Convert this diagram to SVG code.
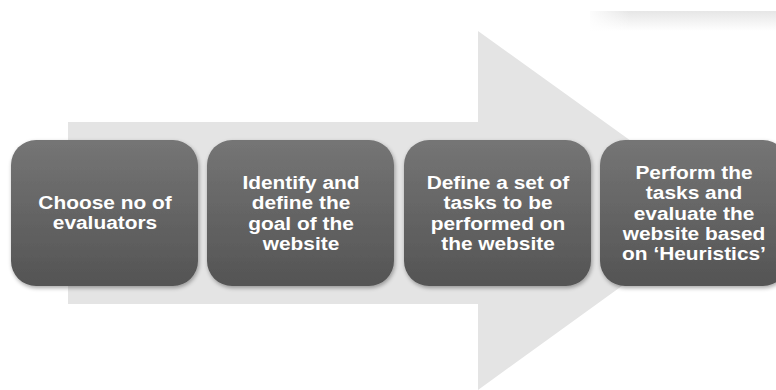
<svg xmlns="http://www.w3.org/2000/svg" width="776" height="390" viewBox="0 0 776 390">
  <style>
    .step { fill: url(#boxFill); filter: url(#boxShadow); }
    .label { font-family: "Liberation Sans", Arial, sans-serif; font-weight: bold; font-size: 18px; fill: #ffffff; text-anchor: middle; }
  </style>
  <defs>
    <linearGradient id="boxFill" x1="0" y1="0" x2="0" y2="1">
      <stop offset="0" stop-color="#757575"/>
      <stop offset="1" stop-color="#545454"/>
    </linearGradient>
    <linearGradient id="bandFill" x1="0" y1="0" x2="0" y2="1">
      <stop offset="0" stop-color="#e6e6e6"/>
      <stop offset="1" stop-color="#ffffff"/>
    </linearGradient>
    <linearGradient id="bandFade" x1="0" y1="0" x2="1" y2="0">
      <stop offset="0" stop-color="#ffffff" stop-opacity="1"/>
      <stop offset="1" stop-color="#ffffff" stop-opacity="0"/>
    </linearGradient>
    <filter id="boxShadow" x="-10%" y="-10%" width="125%" height="125%">
      <feGaussianBlur in="SourceAlpha" stdDeviation="2"/>
      <feOffset dx="1" dy="2" result="blur"/>
      <feComponentTransfer><feFuncA type="linear" slope="0.35"/></feComponentTransfer>
      <feMerge><feMergeNode/><feMergeNode in="SourceGraphic"/></feMerge>
    </filter>
  </defs>

  <rect width="776" height="390" fill="#ffffff"/>

  <!-- faint band along the top right -->
  <rect x="590" y="11" width="186" height="20" fill="url(#bandFill)"/>
  <rect x="585" y="10" width="45" height="22" fill="url(#bandFade)"/>

  <!-- large background arrow -->
  <g id="connectors">
    <polygon points="68,122 478,122 478,31 727,210 478,390 478,304 68,304" fill="#e4e4e4"/>
  </g>

  <g id="step1">
    <rect class="step" x="11" y="140" width="187" height="146" rx="25"/>
    <g transform="translate(105 0) scale(1.16 1)">
      <text class="label" x="0" y="209">Choose no of</text>
      <text class="label" x="0" y="229.5">evaluators</text>
    </g>
  </g>

  <g id="step2">
    <rect class="step" x="207" y="140" width="187" height="146" rx="25"/>
    <g transform="translate(301 0) scale(1.16 1)">
      <text class="label" x="0" y="189">Identify and</text>
      <text class="label" x="0" y="209.5">define the</text>
      <text class="label" x="0" y="230">goal of the</text>
      <text class="label" x="0" y="250">website</text>
    </g>
  </g>

  <g id="step3">
    <rect class="step" x="404" y="140" width="187" height="146" rx="25"/>
    <g transform="translate(498 0) scale(1.16 1)">
      <text class="label" x="0" y="189">Define a set of</text>
      <text class="label" x="0" y="209.5">tasks to be</text>
      <text class="label" x="0" y="230">performed on</text>
      <text class="label" x="0" y="250">the website</text>
    </g>
  </g>

  <g id="step4">
    <rect class="step" x="600" y="140" width="188" height="146" rx="25"/>
    <g transform="translate(694 0) scale(1.16 1)">
      <text class="label" x="0" y="179">Perform the</text>
      <text class="label" x="0" y="199.5">tasks and</text>
      <text class="label" x="0" y="220">evaluate the</text>
      <text class="label" x="0" y="240">website based</text>
      <text class="label" x="0" y="260.5">on ‘Heuristics’</text>
    </g>
  </g>
</svg>
